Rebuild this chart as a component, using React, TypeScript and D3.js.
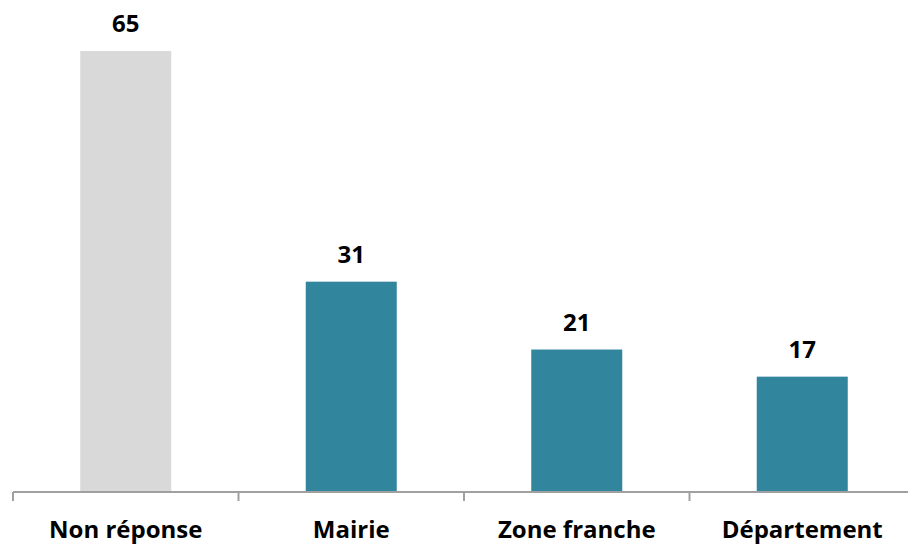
import React from "react";
import * as d3 from "d3";

const categories = ["Non réponse", "Mairie", "Zone franche", "Département"];
const values = [65, 31, 21, 17];
const colors = ["#D9D9D9", "#31859C", "#31859C", "#31859C"];

const W = 908;
const H = 547;

export default function App() {
  const x = d3.scaleBand<string>().domain(categories).range([13, 915]).paddingInner(0).paddingOuter(0);
  const y = d3.scaleLinear().domain([0, 65]).range([492, 51]);
  const barW = 91;
  const font = "'Open Sans', sans-serif";
  const ticks = [...categories.map((c) => x(c)!), 915];
  return (
    <svg width={W} height={H} style={{ position: "absolute", left: 0, top: 0, background: "#fff" }}>
      {categories.map((c, i) => {
        const cx = x(c)! + x.bandwidth() / 2;
        return (
          <g key={c}>
            <rect x={cx - barW / 2} y={y(values[i])} width={barW} height={y(0) - y(values[i])} fill={colors[i]} />
            <text x={cx} y={y(values[i]) - 19} textAnchor="middle" fontFamily={font} fontWeight="bold" fontSize={24} fill="#000">
              {values[i]}
            </text>
            <text x={cx} y={538} textAnchor="middle" fontFamily={font} fontWeight="bold" fontSize={24} fill="#000">
              {c}
            </text>
          </g>
        );
      })}
      <line x1={13} x2={915} y1={492} y2={492} stroke="#A0A0A0" strokeWidth={2} />
      {ticks.map((t, i) => (
        <line key={i} x1={t} x2={t} y1={492} y2={501} stroke="#A0A0A0" strokeWidth={2} />
      ))}
    </svg>
  );
}
